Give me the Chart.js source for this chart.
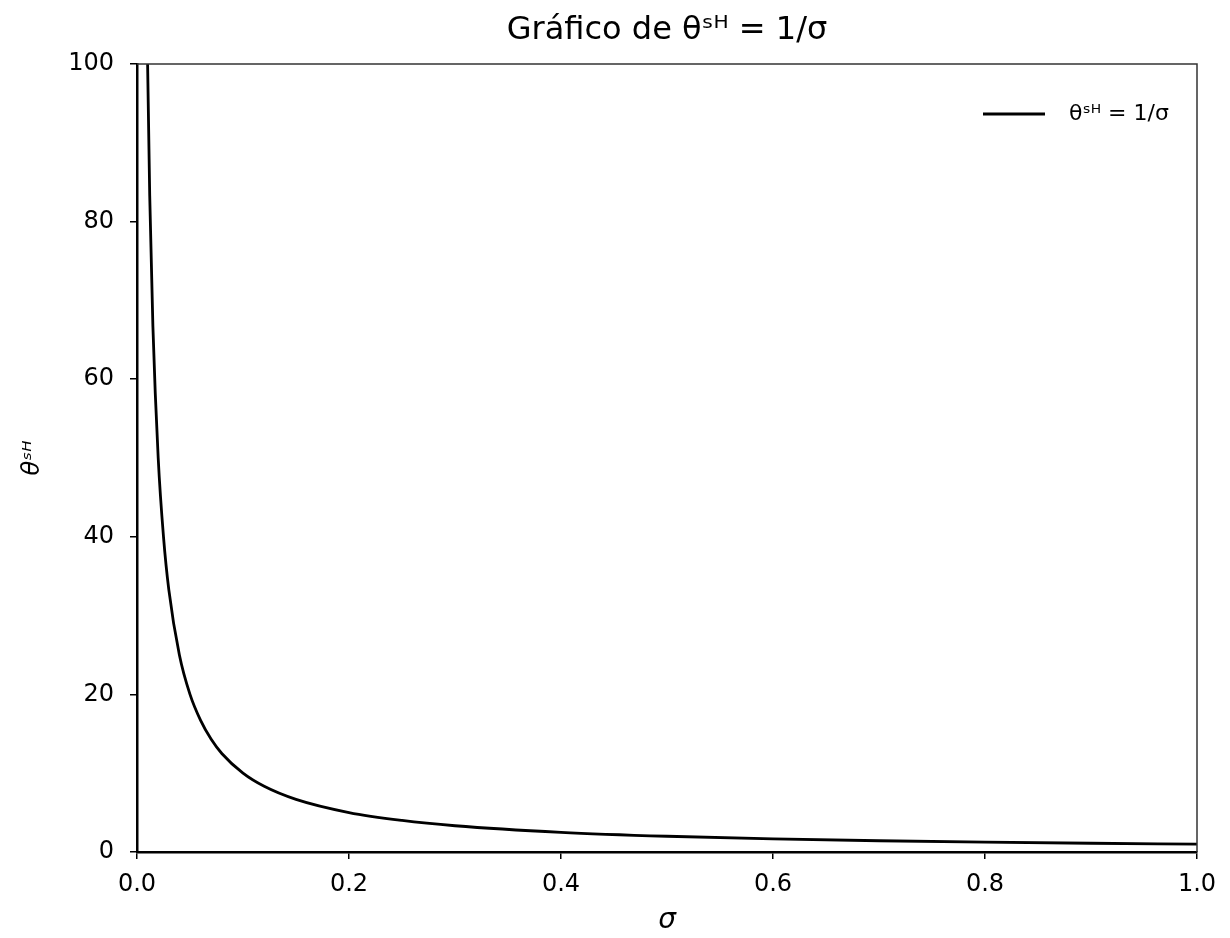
<!DOCTYPE html>
<html><head><meta charset="utf-8">
<script src="https://cdn.jsdelivr.net/npm/chart.js@4/dist/chart.umd.min.js"></script>
<style>html,body{margin:0;padding:0;background:#fff;}canvas{display:block;}</style>
</head><body>
<canvas id="c" width="1230" height="938"></canvas>
<script>
const sigmaValues = [0.005, 0.008, 0.01, 0.012, 0.015, 0.02, 0.025, 0.03, 0.04, 0.05, 0.06, 0.07, 0.08, 0.1, 0.12, 0.15, 0.2, 0.25, 0.3, 0.4, 0.5, 0.6, 0.7, 0.8, 0.9, 1.0];
const thetaValues = [200, 125, 100, 83.3, 66.7, 50, 40, 33.3, 25, 20, 16.7, 14.3, 12.5, 10, 8.33, 6.67, 5, 4, 3.33, 2.5, 2, 1.67, 1.43, 1.25, 1.11, 1.0];
const xTicks = [0, 0.2, 0.4, 0.6, 0.8, 1.0];
const yTicks = [0, 20, 40, 60, 80, 100];
const titleText = 'Gráfico de θˢᴴ = 1/σ';
const seriesLabel = 'θˢᴴ = 1/σ';
const xLabel = 'σ';
const yLabel = 'θˢᴴ';

const FONT = "'DejaVu Sans', sans-serif";
const points = sigmaValues.map((s, i) => ({x: s, y: thetaValues[i]}));

const framePlugin = {
  id: 'frame',
  afterDraw(chart) {
    const {ctx, chartArea: a} = chart;
    ctx.save();
    ctx.strokeStyle = '#333';
    ctx.lineWidth = 1.5;
    ctx.beginPath();
    ctx.moveTo(a.left, a.top);
    ctx.lineTo(a.right, a.top);
    ctx.lineTo(a.right, a.bottom);
    ctx.stroke();
    // title centred over plot area
    ctx.fillStyle = '#000';
    ctx.font = '32px ' + FONT;
    ctx.textAlign = 'center';
    ctx.textBaseline = 'middle';
    ctx.fillText(titleText, (a.left + a.right) / 2, 31);
    // legend
    const lx = a.right - 214, ly = a.top + 50;
    ctx.strokeStyle = '#000';
    ctx.lineWidth = 3;
    ctx.beginPath();
    ctx.moveTo(lx, ly);
    ctx.lineTo(lx + 62, ly);
    ctx.stroke();
    ctx.font = '22px ' + FONT;
    ctx.textAlign = 'left';
    ctx.fillText(chart.data.datasets[0].label, lx + 86, ly);
    ctx.restore();
  }
};

new Chart(document.getElementById('c'), {
  type: 'line',
  data: {
    datasets: [{
      label: seriesLabel,
      data: points,
      borderColor: '#000',
      borderWidth: 2.8,
      pointRadius: 0,
      cubicInterpolationMode: 'monotone',
      fill: false
    }]
  },
  options: {
    responsive: false,
    devicePixelRatio: 1,
    animation: false,
    layout: {padding: {left: 4, right: 33, top: 64, bottom: 0}},
    plugins: {
      legend: {display: false},
      tooltip: {enabled: false},
      title: {display: false}
    },
    scales: {
      x: {
        type: 'linear',
        min: 0, max: 1,
        afterBuildTicks: (s) => { s.ticks = xTicks.map(v => ({value: v})); },
        afterFit: (s) => { s.height = 86; },
        ticks: {
          color: '#000',
          font: {family: FONT, size: 24},
          padding: 11,
          callback: (v) => Number(v).toFixed(1)
        },
        grid: {drawOnChartArea: false, drawTicks: true, tickLength: 7, color: '#000', lineWidth: 1.5},
        border: {display: true, color: '#000', width: 2.5},
        title: {display: true, text: xLabel, color: '#000', font: {family: FONT, size: 28, style: 'italic'}, padding: {top: 2, bottom: 0}}
      },
      y: {
        min: 0, max: 100,
        afterBuildTicks: (s) => { s.ticks = yTicks.map(v => ({value: v})); },
        afterFit: (s) => { s.width = 133; },
        ticks: {
          color: '#000',
          font: {family: FONT, size: 24},
          padding: 16
        },
        grid: {drawOnChartArea: false, drawTicks: true, tickLength: 7, color: '#000', lineWidth: 1.5},
        border: {display: true, color: '#000', width: 2.5},
        title: {display: true, text: yLabel, color: '#000', font: {family: FONT, size: 24, style: 'italic'}, padding: {top: 14, bottom: 16}}
      }
    }
  },
  plugins: [framePlugin]
});
</script>
</body></html>
